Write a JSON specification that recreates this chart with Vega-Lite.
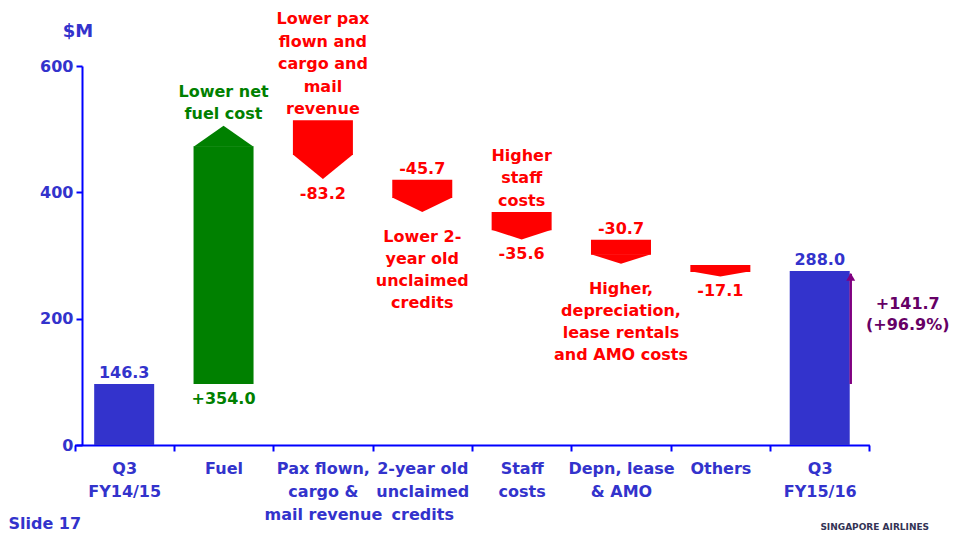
{
  "$schema": "https://vega.github.io/schema/vega-lite/v6.json",
  "width": 787,
  "height": 379,
  "autosize": {"type": "none"},
  "padding": {"left": 82, "top": 66, "right": 86, "bottom": 93},
  "background": "white",
  "config": {
    "view": {"stroke": null},
    "font": "DejaVu Sans",
    "text": {"font": "DejaVu Sans", "fontWeight": "bold", "fontSize": 16}
  },
  "data": {
    "values": [
      {"cat": "Q3|FY14/15", "kind": "total", "start": 0, "neck": 96.6, "top": 96.6, "bottom": 0, "above": "146.3", "below": "", "desc": ""},
      {"cat": "Fuel", "kind": "up", "start": 96.6, "neck": 473, "top": 507, "bottom": 96.6, "above": "Lower net\nfuel cost", "below": "+354.0", "desc": ""},
      {"cat": "Pax flown,|cargo &|mail revenue", "kind": "down", "start": 514, "neck": 459, "top": 514, "bottom": 421, "above": "Lower pax\nflown and\ncargo and\nmail\nrevenue", "below": "-83.2", "desc": ""},
      {"cat": "2-year old|unclaimed|credits", "kind": "down", "start": 420, "neck": 391, "top": 420, "bottom": 369, "above": "-45.7", "below": "", "desc": "Lower 2-\nyear old\nunclaimed\ncredits"},
      {"cat": "Staff|costs", "kind": "down", "start": 369, "neck": 340, "top": 369, "bottom": 326, "above": "Higher\nstaff\ncosts", "below": "-35.6", "desc": ""},
      {"cat": "Depn, lease|& AMO", "kind": "down", "start": 325, "neck": 301, "top": 325, "bottom": 287, "above": "-30.7", "below": "", "desc": "Higher,\ndepreciation,\nlease rentals\nand AMO costs"},
      {"cat": "Others", "kind": "down", "start": 285, "neck": 274, "top": 285, "bottom": 268, "above": "", "below": "-17.1", "desc": ""},
      {"cat": "Q3|FY15/16", "kind": "total", "start": 0, "neck": 275.4, "top": 275.4, "bottom": 0, "above": "288.0", "below": "", "desc": ""}
    ]
  },
  "encoding": {
    "x": {
      "field": "cat",
      "type": "nominal",
      "sort": null,
      "scale": {"paddingInner": 0, "paddingOuter": 0, "range": [-7.5, 787.4]},
      "axis": {
        "title": "Slide 17",
        "titleX": -74,
        "titleY": 78,
        "titleAlign": "left",
        "titleAnchor": null,
        "titleBaseline": "middle",
        "titleFont": "DejaVu Sans",
        "titleFontSize": 16,
        "titleFontWeight": "bold",
        "titleColor": "#3333CC",
        "labelExpr": "split(datum.label, '|')",
        "labelAngle": 0,
        "labelFont": "DejaVu Sans",
        "labelFontSize": 16,
        "labelFontWeight": "bold",
        "labelColor": "#3333CC",
        "labelLineHeight": 23,
        "labelPadding": 9,
        "labelLimit": 300,
        "domainColor": "#0000FF",
        "domainWidth": 2,
        "tickColor": "#0000FF",
        "tickWidth": 2,
        "tickSize": 6,
        "tickBand": "extent",
        "grid": false
      }
    }
  },
  "layer": [
    {
      "mark": {"type": "bar", "width": 60},
      "encoding": {
        "y": {
          "field": "start",
          "type": "quantitative",
          "scale": {"domain": [0, 600], "nice": false},
          "axis": {
            "values": [0, 200, 400, 600],
            "title": "$M",
            "titleAngle": 0,
            "titleX": -4.5,
            "titleY": -35,
            "titleAlign": "center",
            "titleBaseline": "middle",
            "titleFont": "DejaVu Sans",
            "titleFontSize": 18,
            "titleFontWeight": "bold",
            "titleColor": "#3333CC",
            "labelFont": "DejaVu Sans",
            "labelFontSize": 16,
            "labelFontWeight": "bold",
            "labelColor": "#3333CC",
            "labelPadding": 3,
            "domainColor": "#0000FF",
            "domainWidth": 2,
            "tickColor": "#0000FF",
            "tickWidth": 2,
            "tickSize": 6,
            "grid": false
          }
        },
        "y2": {"field": "neck"},
        "color": {
          "field": "kind",
          "type": "nominal",
          "scale": {"domain": ["total", "up", "down"], "range": ["#3333CC", "#008000", "#FF0000"]},
          "legend": null
        }
      }
    },
    {
      "transform": [{"filter": "datum.kind != 'total'"}],
      "mark": {"type": "point", "filled": true, "opacity": 1, "size": 3600, "strokeWidth": 0},
      "encoding": {
        "y": {"field": "neck", "type": "quantitative"},
        "shape": {
          "field": "cat",
          "type": "nominal",
          "scale": {
            "domain": ["Fuel", "Pax flown,|cargo &|mail revenue", "2-year old|unclaimed|credits", "Staff|costs", "Depn, lease|& AMO", "Others"],
            "range": ["M-1,0.02L1,0.02L0,-0.68Z", "M-1,-0.02L1,-0.02L0,0.8Z", "M-1,-0.02L1,-0.02L0,0.47Z", "M-1,-0.02L1,-0.02L0,0.31Z", "M-1,-0.02L1,-0.02L0,0.3Z", "M-1,-0.02L1,-0.02L0,0.15Z"]
          },
          "legend": null
        },
        "color": {"field": "kind", "type": "nominal", "legend": null}
      }
    },
    {
      "transform": [{"filter": "length(split(datum.above, '\\n')) == 1"}],
      "mark": {"type": "text", "baseline": "bottom", "align": "center", "dy": -3, "lineBreak": "\n", "lineHeight": 22.5},
      "encoding": {
        "y": {"field": "top", "type": "quantitative"},
        "text": {"field": "above"},
        "color": {"field": "kind", "type": "nominal", "legend": null}
      }
    },
    {
      "transform": [{"filter": "length(split(datum.above, '\\n')) == 2"}],
      "mark": {"type": "text", "baseline": "bottom", "align": "center", "dy": -24.5, "lineBreak": "\n", "lineHeight": 22},
      "encoding": {
        "y": {"field": "top", "type": "quantitative"},
        "text": {"field": "above"},
        "color": {"field": "kind", "type": "nominal", "legend": null}
      }
    },
    {
      "transform": [{"filter": "length(split(datum.above, '\\n')) == 3"}],
      "mark": {"type": "text", "baseline": "bottom", "align": "center", "dy": -48, "lineBreak": "\n", "lineHeight": 22.5},
      "encoding": {
        "y": {"field": "top", "type": "quantitative"},
        "text": {"field": "above"},
        "color": {"field": "kind", "type": "nominal", "legend": null}
      }
    },
    {
      "transform": [{"filter": "length(split(datum.above, '\\n')) == 5"}],
      "mark": {"type": "text", "baseline": "bottom", "align": "center", "dy": -93, "lineBreak": "\n", "lineHeight": 22.5},
      "encoding": {
        "y": {"field": "top", "type": "quantitative"},
        "text": {"field": "above"},
        "color": {"field": "kind", "type": "nominal", "legend": null}
      }
    },
    {
      "mark": {"type": "text", "baseline": "top", "align": "center", "dy": 7, "lineBreak": "\n", "lineHeight": 22.5},
      "encoding": {
        "y": {"field": "bottom", "type": "quantitative"},
        "text": {"field": "below"},
        "color": {"field": "kind", "type": "nominal", "legend": null}
      }
    },
    {
      "mark": {"type": "text", "baseline": "top", "align": "center", "dy": 17, "lineBreak": "\n", "lineHeight": 22},
      "encoding": {
        "y": {"field": "bottom", "type": "quantitative"},
        "text": {"field": "desc"},
        "color": {"field": "kind", "type": "nominal", "legend": null}
      }
    },
    {
      "data": {"values": [{"cat": "Q3|FY15/16", "from": 96.6, "to": 271, "change": "+141.7\n(+96.9%)"}]},
      "layer": [
        {
          "mark": {"type": "rule", "xOffset": 31, "color": "#800080", "strokeWidth": 2.5},
          "encoding": {
            "y": {"field": "from", "type": "quantitative"},
            "y2": {"field": "to"}
          }
        },
        {
          "mark": {"type": "point", "shape": "triangle-up", "filled": true, "opacity": 1, "size": 80, "xOffset": 31, "yOffset": 3, "color": "#800080", "strokeWidth": 0},
          "encoding": {
            "y": {"field": "to", "type": "quantitative"}
          }
        },
        {
          "mark": {"type": "text", "baseline": "top", "align": "center", "dx": 88, "dy": 22, "lineBreak": "\n", "lineHeight": 21, "color": "#660066"},
          "encoding": {
            "y": {"field": "to", "type": "quantitative"},
            "text": {"field": "change"}
          }
        }
      ]
    },
    {
      "data": {"values": [{"cat": "Q3|FY15/16", "v": 0, "brand": "SINGAPORE AIRLINES"}]},
      "mark": {"type": "text", "baseline": "middle", "align": "center", "dx": 55, "dy": 82, "fontSize": 9, "fontWeight": "bold", "color": "#333355", "font": "DejaVu Sans"},
      "encoding": {
        "y": {"field": "v", "type": "quantitative"},
        "text": {"field": "brand"}
      }
    }
  ]
}
